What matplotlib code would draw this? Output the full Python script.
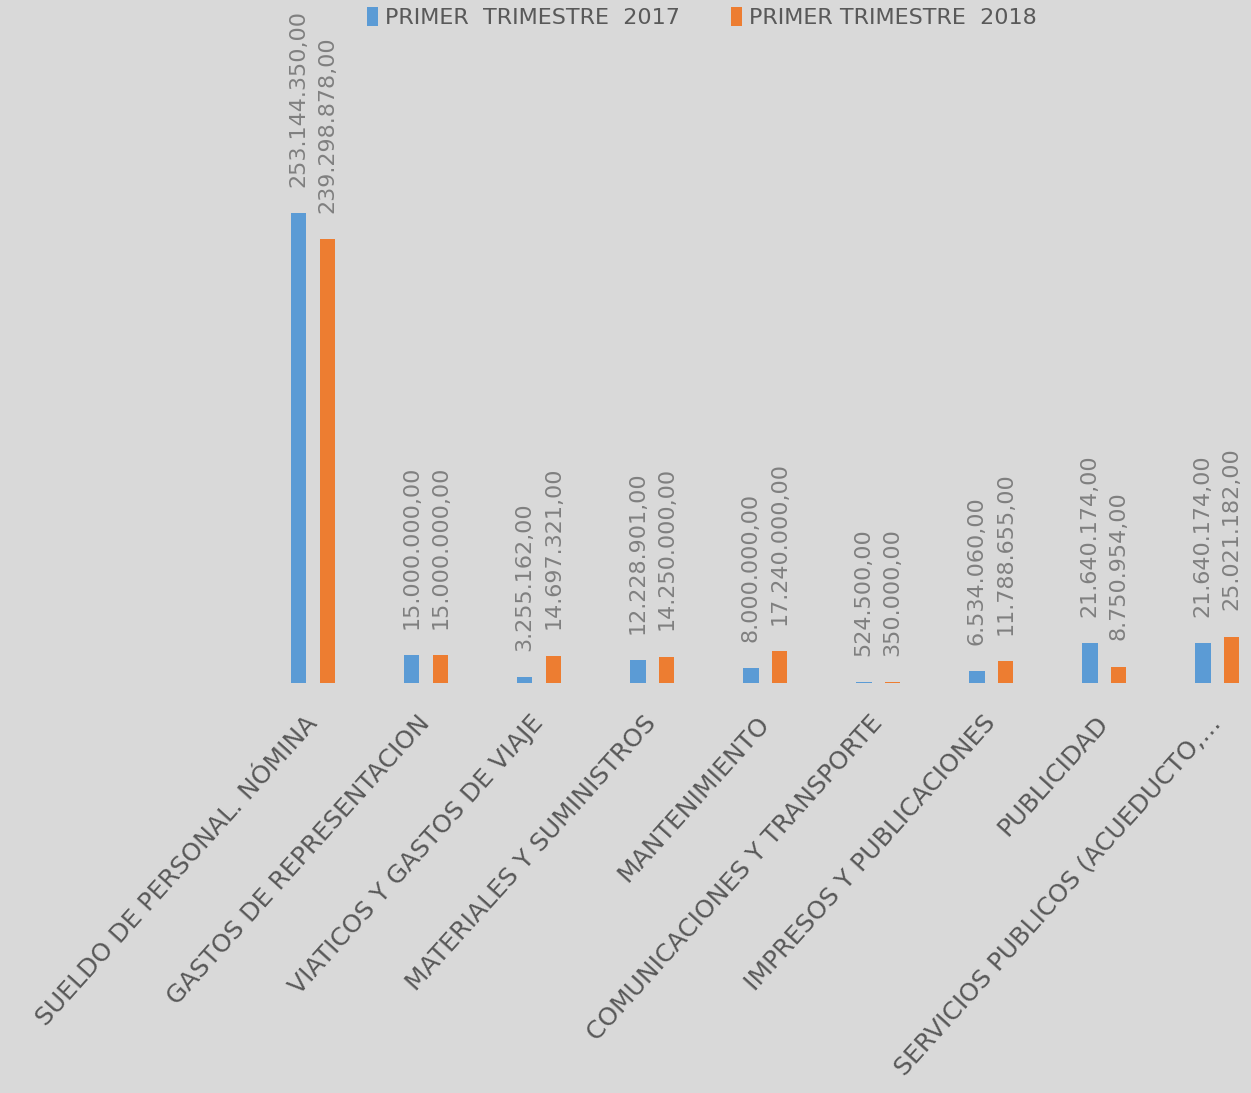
import numpy as np
import matplotlib
matplotlib.use("Agg")
import matplotlib.pyplot as plt

categorias = [
    "SUELDO DE PERSONAL. NÓMINA",
    "GASTOS DE REPRESENTACION",
    "VIATICOS Y GASTOS DE VIAJE",
    "MATERIALES Y SUMINISTROS",
    "MANTENIMIENTO",
    "COMUNICACIONES Y TRANSPORTE",
    "IMPRESOS Y PUBLICACIONES",
    "PUBLICIDAD",
    "SERVICIOS PUBLICOS (ACUEDUCTO,…",
]
trimestre_2017 = [253144350, 15000000, 3255162, 12228901, 8000000,
                  524500, 6534060, 21640174, 21640174]
trimestre_2018 = [239298878, 15000000, 14697321, 14250000, 17240000,
                  350000, 11788655, 8750954, 25021182]
series = ["PRIMER  TRIMESTRE  2017", "PRIMER TRIMESTRE  2018"]

azul = "#5B9BD5"
naranja = "#ED7D31"
fondo = "#D9D9D9"


def formato(v):
    s = f"{v:,.2f}"
    return s.replace(",", "X").replace(".", ",").replace("X", ".")


fig = plt.figure(figsize=(12.51, 10.93), dpi=100, facecolor=fondo)
ax = fig.add_axes([0, 0.375, 1, 0.625], facecolor=fondo)

x = np.arange(len(categorias))
w = 0.14
off = 0.128
b1 = ax.bar(x - off, trimestre_2017, w, color=azul, label=series[0])
b2 = ax.bar(x + off, trimestre_2018, w, color=naranja, label=series[1])

for barras in (b1, b2):
    for r in barras:
        ax.annotate(formato(r.get_height()),
                    (r.get_x() + r.get_width() / 2, r.get_height()),
                    xytext=(0, 19), textcoords="offset points",
                    rotation=90, ha="center", va="bottom",
                    fontsize=16, color="#7F7F7F")

ax.set_xlim(-2.77, 8.30)
ax.set_ylim(0, 3.68e8)
ax.set_xticks(x, categorias, rotation=48, ha="right", va="center",
              rotation_mode="anchor", fontsize=18, color="#595959")
ax.tick_params(axis="x", length=0, pad=26)
ax.set_yticks([])
for s in ax.spines.values():
    s.set_visible(False)

fig.legend(handles=[b1, b2], labels=series, ncol=2,
           loc="upper center", bbox_to_anchor=(0.561, 1.012),
           frameon=False, handlelength=0.5, handleheight=0.95,
           handletextpad=0.3, columnspacing=2.3,
           prop={"size": 16}, labelcolor="#595959")

fig.savefig("out.png", dpi=100, facecolor=fondo)
